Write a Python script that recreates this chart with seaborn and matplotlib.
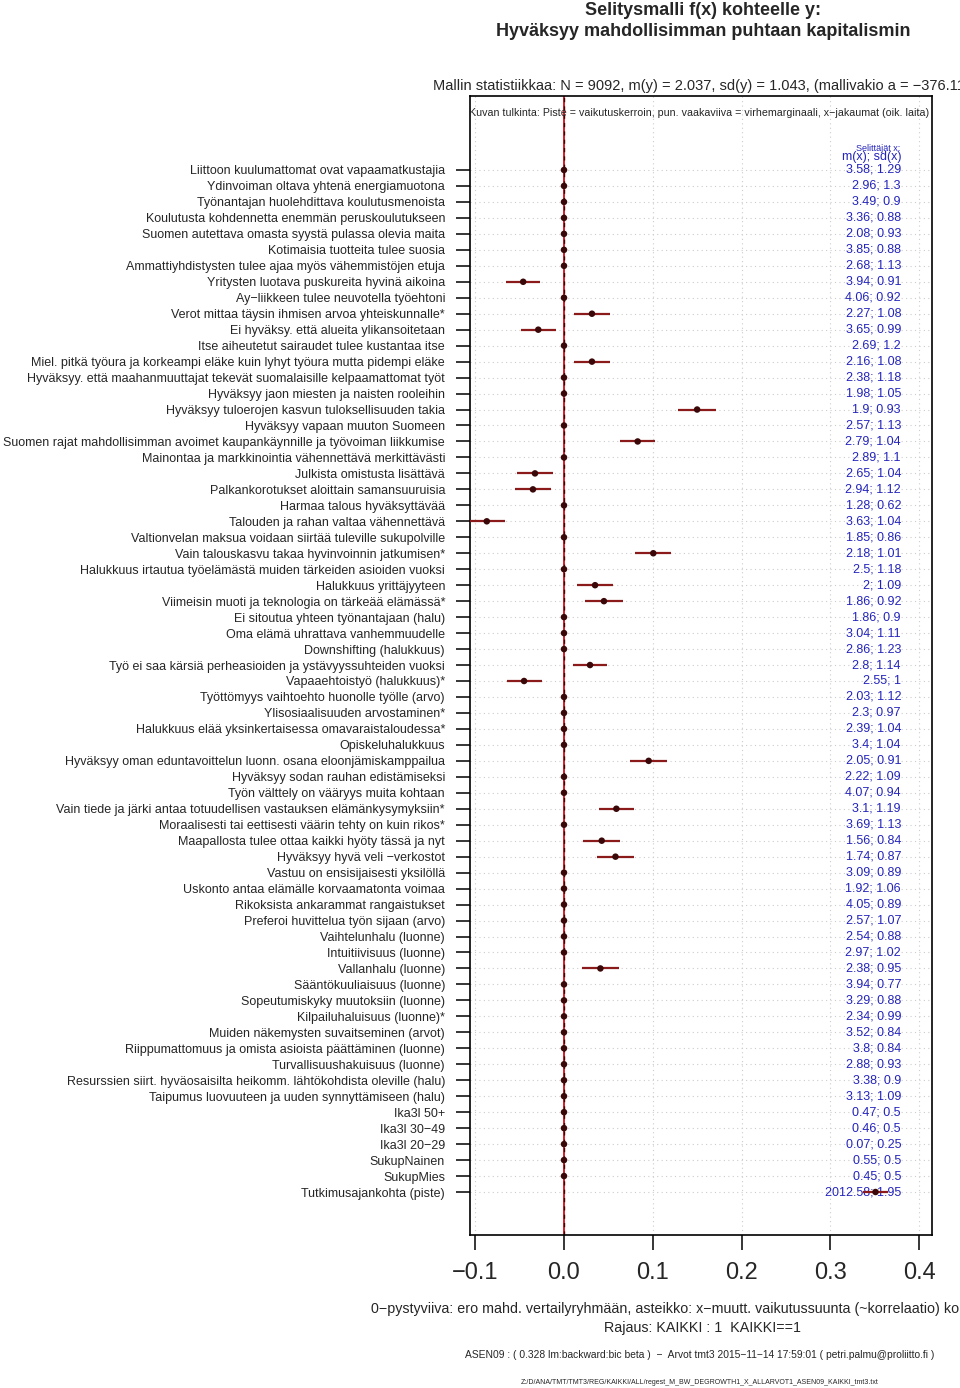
import numpy as np
import pandas as pd
import matplotlib
matplotlib.use("Agg")
import matplotlib.pyplot as plt
import seaborn as sns

###########################
# DATA
###########################

labels = [
    "Liittoon kuulumattomat ovat vapaamatkustajia",
    "Ydinvoiman oltava yhtenä energiamuotona",
    "Työnantajan huolehdittava koulutusmenoista",
    "Koulutusta kohdennetta enemmän peruskoulutukseen",
    "Suomen autettava omasta syystä pulassa olevia maita",
    "Kotimaisia tuotteita tulee suosia",
    "Ammattiyhdistysten tulee ajaa myös vähemmistöjen etuja",
    "Yritysten luotava puskureita hyvinä aikoina",
    "Ay−liikkeen tulee neuvotella työehtoni",
    "Verot mittaa täysin ihmisen arvoa yhteiskunnalle*",
    "Ei hyväksy. että alueita ylikansoitetaan",
    "Itse aiheutetut sairaudet tulee kustantaa itse",
    "Miel. pitkä työura ja korkeampi eläke kuin lyhyt työura mutta pidempi eläke",
    "Hyväksyy. että maahanmuuttajat tekevät suomalaisille kelpaamattomat työt",
    "Hyväksyy jaon miesten ja naisten rooleihin",
    "Hyväksyy tuloerojen kasvun tuloksellisuuden takia",
    "Hyväksyy vapaan muuton Suomeen",
    "Suomen rajat mahdollisimman avoimet kaupankäynnille ja työvoiman liikkumise",
    "Mainontaa ja markkinointia vähennettävä merkittävästi",
    "Julkista omistusta lisättävä",
    "Palkankorotukset aloittain samansuuruisia",
    "Harmaa talous hyväksyttävää",
    "Talouden ja rahan valtaa vähennettävä",
    "Valtionvelan maksua voidaan siirtää tuleville sukupolville",
    "Vain talouskasvu takaa hyvinvoinnin jatkumisen*",
    "Halukkuus irtautua työelämästä muiden tärkeiden asioiden vuoksi",
    "Halukkuus yrittäjyyteen",
    "Viimeisin muoti ja teknologia on tärkeää elämässä*",
    "Ei sitoutua yhteen työnantajaan (halu)",
    "Oma elämä uhrattava vanhemmuudelle",
    "Downshifting (halukkuus)",
    "Työ ei saa kärsiä perheasioiden ja ystävyyssuhteiden vuoksi",
    "Vapaaehtoistyö (halukkuus)*",
    "Työttömyys vaihtoehto huonolle työlle (arvo)",
    "Ylisosiaalisuuden arvostaminen*",
    "Halukkuus elää yksinkertaisessa omavaraistaloudessa*",
    "Opiskeluhalukkuus",
    "Hyväksyy oman eduntavoittelun luonn. osana eloonjämiskamppailua",
    "Hyväksyy sodan rauhan edistämiseksi",
    "Työn välttely on vääryys muita kohtaan",
    "Vain tiede ja järki antaa totuudellisen vastauksen elämänkysymyksiin*",
    "Moraalisesti tai eettisesti väärin tehty on kuin rikos*",
    "Maapallosta tulee ottaa kaikki hyöty tässä ja nyt",
    "Hyväksyy hyvä veli −verkostot",
    "Vastuu on ensisijaisesti yksilöllä",
    "Uskonto antaa elämälle korvaamatonta voimaa",
    "Rikoksista ankarammat rangaistukset",
    "Preferoi huvittelua työn sijaan (arvo)",
    "Vaihtelunhalu (luonne)",
    "Intuitiivisuus (luonne)",
    "Vallanhalu (luonne)",
    "Sääntökuuliaisuus (luonne)",
    "Sopeutumiskyky muutoksiin (luonne)",
    "Kilpailuhaluisuus (luonne)*",
    "Muiden näkemysten suvaitseminen (arvot)",
    "Riippumattomuus ja omista asioista päättäminen (luonne)",
    "Turvallisuushakuisuus (luonne)",
    "Resurssien siirt. hyväosaisilta heikomm. lähtökohdista oleville (halu)",
    "Taipumus luovuuteen ja uuden synnyttämiseen (halu)",
    "Ika3l 50+",
    "Ika3l 30−49",
    "Ika3l 20−29",
    "SukupNainen",
    "SukupMies",
    "Tutkimusajankohta (piste)",
]

# beta coefficients (0 = dropped from model)
coef = [
    0, 0, 0, 0, 0, 0, 0, -0.046, 0, 0.0315,
    -0.029, 0, 0.0315, 0, 0, 0.150, 0, 0.083, 0, -0.0327,
    -0.035, 0, -0.087, 0, 0.1006, 0, 0.035, 0.045, 0, 0,
    0, 0.0293, -0.045, 0, 0, 0, 0, 0.0954, 0, 0,
    0.059, 0, 0.0425, 0.058, 0, 0, 0, 0, 0, 0,
    0.041, 0, 0, 0, 0, 0, 0, 0, 0, 0,
    0, 0, 0, 0, 0.351,
]

# error margins
err = [
    0, 0, 0, 0, 0, 0, 0, 0.0188, 0, 0.020,
    0.0197, 0, 0.020, 0, 0, 0.0212, 0, 0.0195, 0, 0.020,
    0.020, 0, 0.020, 0, 0.0204, 0, 0.020, 0.021, 0, 0,
    0, 0.019, 0.0197, 0, 0, 0, 0, 0.021, 0, 0,
    0.0197, 0, 0.0206, 0.0206, 0, 0, 0, 0, 0, 0,
    0.021, 0, 0, 0, 0, 0, 0, 0, 0, 0,
    0, 0, 0, 0, 0.014,
]

# x distributions: mean; sd
x_stats = [
    "3.58; 1.29", "2.96; 1.3", "3.49; 0.9", "3.36; 0.88", "2.08; 0.93",
    "3.85; 0.88", "2.68; 1.13", "3.94; 0.91", "4.06; 0.92", "2.27; 1.08",
    "3.65; 0.99", "2.69; 1.2", "2.16; 1.08", "2.38; 1.18", "1.98; 1.05",
    "1.9; 0.93", "2.57; 1.13", "2.79; 1.04", "2.89; 1.1", "2.65; 1.04",
    "2.94; 1.12", "1.28; 0.62", "3.63; 1.04", "1.85; 0.86", "2.18; 1.01",
    "2.5; 1.18", "2; 1.09", "1.86; 0.92", "1.86; 0.9", "3.04; 1.11",
    "2.86; 1.23", "2.8; 1.14", "2.55; 1", "2.03; 1.12", "2.3; 0.97",
    "2.39; 1.04", "3.4; 1.04", "2.05; 0.91", "2.22; 1.09", "4.07; 0.94",
    "3.1; 1.19", "3.69; 1.13", "1.56; 0.84", "1.74; 0.87", "3.09; 0.89",
    "1.92; 1.06", "4.05; 0.89", "2.57; 1.07", "2.54; 0.88", "2.97; 1.02",
    "2.38; 0.95", "3.94; 0.77", "3.29; 0.88", "2.34; 0.99", "3.52; 0.84",
    "3.8; 0.84", "2.88; 0.93", "3.38; 0.9", "3.13; 1.09", "0.47; 0.5",
    "0.46; 0.5", "0.07; 0.25", "0.55; 0.5", "0.45; 0.5", "2012.58; 1.95",
]

xticks = [-0.1, 0.0, 0.1, 0.2, 0.3, 0.4]
xtick_labels = ["−0.1", "0.0", "0.1", "0.2", "0.3", "0.4"]

df = pd.DataFrame({"label": labels, "coef": coef, "err": err, "xstat": x_stats})
df["row"] = np.arange(len(df)) + 1

###########################
# PLOT
###########################

sns.set_style("white")
plt.rcParams["font.family"] = ["Liberation Sans", "DejaVu Sans"]

W, H = 960, 1388
fig = plt.figure(figsize=(9.6, 13.88), dpi=100)
ax = fig.add_axes([470 / W, 1 - 1234.5 / H, 462 / W, (1234.5 - 96) / H])

# grid
for r in df["row"]:
    ax.axhline(r, color="#cccccc", lw=0.8, ls=(0, (1, 3)), zorder=0)
for t in xticks:
    ax.axvline(t, color="#cccccc", lw=0.8, ls=(0, (1, 3)), zorder=0)

# zero line
ax.axvline(0, color="#d0202a", lw=1.4, zorder=1)
ax.axvline(0, color="#4a0000", lw=1.0, ls=(0, (3, 3)), zorder=2)

# error bars and points
ax.hlines(df["row"], df["coef"] - df["err"], df["coef"] + df["err"],
          color="#8b1a1a", lw=1.6, zorder=3)
sns.scatterplot(data=df, x="coef", y="row", ax=ax, color="#3a0808",
                s=22, edgecolor="none", zorder=4, legend=False)

# x distributions on the right
xs = (901 - 564) / 887.5
for r, s in zip(df["row"], df["xstat"]):
    ax.text(xs, r, s, ha="right", va="center", fontsize=9, color="#2424bc", zorder=2)
ax.text((878 - 564) / 887.5, 1 + (148.5 - 170) / 15.97, "Selittäjät x:", ha="center",
        va="center", fontsize=6.5, color="#2424bc")
ax.text((872 - 564) / 887.5, 1 + (157.5 - 170) / 15.97, "m(x); sd(x)", ha="center",
        va="center", fontsize=9, color="#2424bc")

ax.set_xlim((470 - 564) / 887.5, (932 - 564) / 887.5)
ax.set_ylim(65 + (1234.5 - 1192) / 15.97, 1 - (170 - 96) / 15.97)

ax.set_yticks(df["row"])
ax.set_yticklabels(df["label"], fontsize=9)
ax.set_xticks(xticks)
ax.set_xticklabels(xtick_labels, fontsize=17)
ax.tick_params(axis="y", length=10, width=1.3, pad=8, direction="out", left=True)
ax.tick_params(axis="x", length=11, width=1.3, pad=9, direction="out", bottom=True)
ax.set_xlabel("")
ax.set_ylabel("")
for sp in ax.spines.values():
    sp.set_color("black")
    sp.set_linewidth(1.2)

# texts
def ftext(x, y, s, va="center", **kw):
    fig.text(x / W, 1 - y / H, s, va=va, **kw)

ftext(703, 15, "Selitysmalli f(x) kohteelle y:", va="baseline", ha="center", fontsize=13,
      fontweight="bold")
ftext(703, 36, "Hyväksyy mahdollisimman puhtaan kapitalismin", va="baseline", ha="center",
      fontsize=13, fontweight="bold")
ftext(433, 86, "Mallin statistiikkaa: N = 9092, m(y) = 2.037, sd(y) = 1.043, (mallivakio a = −376.112)",
      ha="left", fontsize=10.5)
ftext(699, 113, "Kuvan tulkinta: Piste = vaikutuskerroin, pun. vaakaviiva = virhemarginaali, "
      "x−jakaumat (oik. laita)", ha="center", fontsize=7.7)
ftext(371, 1309, "0−pystyviiva: ero mahd. vertailyryhmään, asteikko: x−muutt. vaikutussuunta "
      "(~korrelaatio) kohteeseen y", ha="left", fontsize=10.3)
ftext(703, 1328, "Rajaus: KAIKKI : 1  KAIKKI==1", ha="center", fontsize=10.3)
ftext(700, 1355, "ASEN09 : ( 0.328 lm:backward:bic beta )  −  Arvot tmt3 2015−11−14 17:59:01 "
      "( petri.palmu@proliitto.fi )", ha="center", fontsize=7.4)
ftext(700, 1382, "Z:/D/ANA/TMT/TMT3/REG/KAIKKI/ALL/regest_M_BW_DEGROWTH1_X_ALLARVOT1_ASEN09_KAIKKI_tmt3.txt",
      ha="center", fontsize=5.0)

fig.savefig("out.png", dpi=100, facecolor="white")
